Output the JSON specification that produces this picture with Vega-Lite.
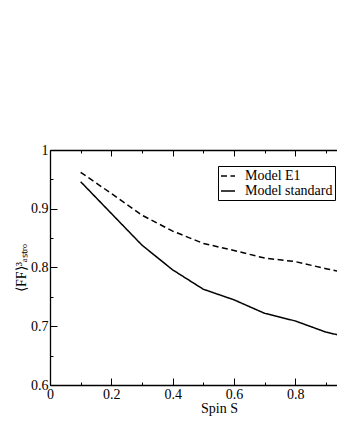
{
  "$schema": "https://vega.github.io/schema/vega-lite/v6.json",
  "autosize": "none",
  "width": 287,
  "height": 235,
  "padding": {"left": 50, "top": 150, "right": 0, "bottom": 51},
  "background": "white",
  "config": {
    "view": {"stroke": null},
    "font": "Liberation Serif",
    "axis": {
      "grid": false,
      "domainColor": "black",
      "domainWidth": 1.3,
      "tickColor": "black",
      "tickWidth": 1,
      "labelFont": "Liberation Serif",
      "labelFontSize": 14,
      "labelColor": "black",
      "labelOverlap": false,
      "labelFlush": false,
      "titleFont": "Liberation Serif",
      "titleFontSize": 14,
      "titleFontWeight": "normal",
      "titleColor": "black"
    }
  },
  "data": {
    "values": [
      {"model": "Model E1", "spin": 0.1, "ff": 0.962},
      {"model": "Model E1", "spin": 0.2, "ff": 0.926},
      {"model": "Model E1", "spin": 0.3, "ff": 0.889},
      {"model": "Model E1", "spin": 0.4, "ff": 0.862},
      {"model": "Model E1", "spin": 0.5, "ff": 0.841},
      {"model": "Model E1", "spin": 0.6, "ff": 0.829},
      {"model": "Model E1", "spin": 0.7, "ff": 0.816},
      {"model": "Model E1", "spin": 0.8, "ff": 0.810},
      {"model": "Model E1", "spin": 0.9, "ff": 0.798},
      {"model": "Model E1", "spin": 1.0, "ff": 0.787},
      {"model": "Model standard", "spin": 0.1, "ff": 0.946},
      {"model": "Model standard", "spin": 0.2, "ff": 0.892},
      {"model": "Model standard", "spin": 0.3, "ff": 0.838},
      {"model": "Model standard", "spin": 0.4, "ff": 0.796},
      {"model": "Model standard", "spin": 0.5, "ff": 0.763},
      {"model": "Model standard", "spin": 0.6, "ff": 0.745},
      {"model": "Model standard", "spin": 0.7, "ff": 0.722},
      {"model": "Model standard", "spin": 0.8, "ff": 0.709},
      {"model": "Model standard", "spin": 0.9, "ff": 0.690},
      {"model": "Model standard", "spin": 1.0, "ff": 0.678}
    ]
  },
  "layer": [
    {
      "mark": {"type": "line", "clip": true, "strokeWidth": 1.5, "color": "black"},
      "encoding": {
        "x": {
          "field": "spin",
          "type": "quantitative",
          "scale": {"domain": [0, 0.936], "nice": false, "zero": false},
          "axis": {
            "orient": "bottom",
            "title": "Spin S",
            "titleX": 169,
            "titlePadding": 0,
            "values": [0, 0.2, 0.4, 0.6, 0.8],
            "format": ".1~f",
            "tickSize": -7,
            "labelPadding": 9
          }
        },
        "y": {
          "field": "ff",
          "type": "quantitative",
          "scale": {"domain": [0.6, 1], "nice": false, "zero": false},
          "axis": {
            "orient": "left",
            "title": "⟨FF⟩³ₐₛₜᵣₒ",
            "titlePadding": 2,
            "values": [0.6, 0.7, 0.8, 0.9, 1.0],
            "format": ".1~f",
            "tickSize": -7,
            "labelPadding": 9
          }
        },
        "strokeDash": {
          "field": "model",
          "type": "nominal",
          "scale": {"domain": ["Model E1", "Model standard"], "range": [[6, 3.5], [1, 0]]},
          "legend": {
            "orient": "none",
            "legendX": 168,
            "legendY": 16,
            "title": null,
            "strokeColor": "black",
            "fillColor": "white",
            "padding": 2,
            "symbolType": "stroke",
            "symbolSize": 196,
            "symbolStrokeWidth": 1.5,
            "symbolStrokeColor": "black",
            "labelFont": "Liberation Serif",
            "labelFontSize": 14,
            "labelColor": "black",
            "labelOffset": 9,
            "rowPadding": 0
          }
        }
      }
    },
    {
      "mark": {"type": "point", "opacity": 0},
      "encoding": {
        "x": {
          "field": "spin",
          "type": "quantitative",
          "axis": {"orient": "top", "title": null, "labels": false, "values": [0, 0.2, 0.4, 0.6, 0.8], "tickSize": -6}
        },
        "y": {
          "field": "ff",
          "type": "quantitative",
          "axis": {"orient": "left", "title": null, "labels": false, "domain": false, "values": [0.65, 0.75, 0.85, 0.95], "tickSize": -3}
        }
      }
    },
    {
      "mark": {"type": "point", "opacity": 0},
      "encoding": {
        "x": {
          "field": "spin",
          "type": "quantitative",
          "axis": {"orient": "bottom", "title": null, "labels": false, "domain": false, "values": [0.1, 0.3, 0.5, 0.7, 0.9], "tickSize": -3}
        },
        "y": {"field": "ff", "type": "quantitative", "axis": null}
      }
    },
    {
      "mark": {"type": "point", "opacity": 0},
      "encoding": {
        "x": {
          "field": "spin",
          "type": "quantitative",
          "axis": {"orient": "top", "title": null, "labels": false, "domain": false, "values": [0.1, 0.3, 0.5, 0.7, 0.9], "tickSize": -3}
        },
        "y": {"field": "ff", "type": "quantitative", "axis": null}
      }
    }
  ],
  "resolve": {"axis": {"x": "independent", "y": "independent"}}
}
